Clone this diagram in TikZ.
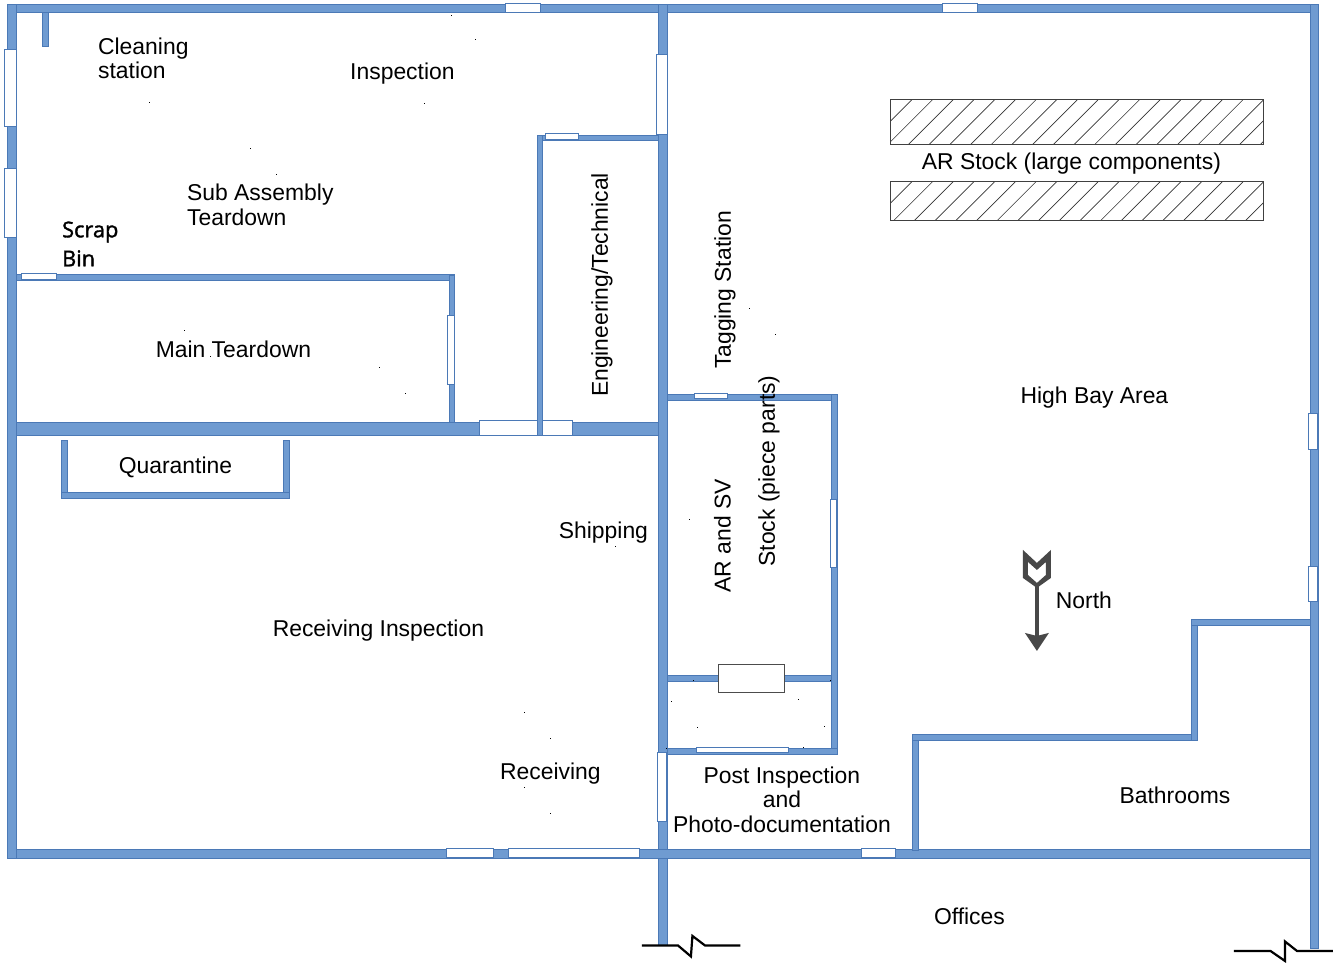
\documentclass[tikz,border=0pt]{standalone}
\usepackage{fontspec}
\setmainfont{Liberation Sans}
\newfontfamily\scrapfont{Open Sans}[FakeBold=1.5]
\definecolor{wallfill}{HTML}{6F9BD1}
\definecolor{wallline}{HTML}{4B79B6}
\definecolor{arrowgray}{HTML}{484848}
\tikzset{
  wallst/.style={fill=wallfill,draw=wallline,line width=0.7pt},
  winst/.style={fill=white,draw=wallline,line width=0.9pt},
  breakst/.style={draw=black,line width=2.2pt,miter limit=10},
  hatchbox/.style={draw=black!75,line width=0.9pt},
  lbl/.style={inner sep=0pt,font=\fontsize{22.9}{24.5}\selectfont},
  speck/.style={fill=black,inner sep=0pt,minimum size=1pt,shape=rectangle},
}
\newcommand\wall[4]{\path[wallst] (#1,#2) rectangle (#3,#4);}
\newcommand\win[4]{\path[winst] (#1,#2) rectangle (#3,#4);}
\begin{document}
\begin{tikzpicture}[x=1pt,y=-1pt]
\useasboundingbox (0.08,0.08) rectangle (1333.08,963.08);
% outer walls
\wall{7}{4}{1318}{12}
\wall{7}{4}{16}{858}
\wall{1310}{4}{1318}{948}
\wall{658}{4}{667}{945}
\wall{16}{849}{1310}{858}
\wall{42}{12}{48}{46}
% interior
\wall{16}{274}{454}{280}
\wall{449}{275}{454}{424}
\wall{16}{422}{658}{435}
\wall{537}{135}{658}{140}
\wall{61}{440}{67}{498}
\wall{283}{440}{289}{498}
\wall{61}{492}{289}{498}
\wall{667}{394}{837}{400}
\wall{831}{394}{837}{754}
\wall{667}{675}{831}{681}
\wall{667}{748}{837}{754}
\wall{912}{734}{918}{850}
\wall{912}{734}{1197}{740}
\wall{1191}{619}{1197}{740}
\wall{1191}{619}{1310}{625}
% windows
\win{506}{4}{541}{13}
\win{943}{4}{978}{13}
\win{5}{50}{17}{127}
\win{5}{169}{17}{238}
\win{657}{55}{668}{135}
\win{658}{753}{667}{822}
\win{1309}{414}{1318}{450}
\win{1309}{567}{1318}{602}
\win{447}{849}{494}{858}
\win{509}{849}{640}{858}
\win{862}{849}{896}{858}
\win{22}{274}{57}{280}
\win{448}{316}{455}{385}
\win{480}{421}{573}{436}
\win{546}{134}{579}{140}
\win{695}{394}{728}{399}
\win{831}{500}{837}{568}
\win{697}{748}{789}{753}
\wall{537}{135}{542}{435}
\path[fill=white,draw=black!70,line width=1pt] (719,665) rectangle (785,693);
% hatch boxes
\begin{scope}
\clip (891,100) rectangle (1264,145);
\foreach \i in {0,...,21}{\draw[black!80,line width=0.7pt] (866.7+\i*20.7,145) -- ++(45,-45);}
\end{scope}
\path[hatchbox] (891,100) rectangle (1264,145);
\begin{scope}
\clip (891,182) rectangle (1264,221);
\foreach \i in {0,...,21}{\draw[black!80,line width=0.7pt] (872.7+\i*20.7,221) -- ++(39,-39);}
\end{scope}
\path[hatchbox] (891,182) rectangle (1264,221);
% break lines
\path[breakst] (642,945.5) -- (678,945.5) -- (691,956.5) -- (692.5,936) -- (705,945.5) -- (740.5,945.5);
\path[breakst] (1234,951) -- (1270.5,951) -- (1285,961) -- (1285,941.5) -- (1297,951) -- (1333,951);
% north arrow
\path[fill=arrowgray,even odd rule] (1023,550) -- (1037,563) -- (1051,550) -- (1051,578) -- (1037,588) -- (1023,578) -- cycle
  (1028,562) -- (1037,570) -- (1046,562) -- (1046,575) -- (1037,583) -- (1028,575) -- cycle;
\path[fill=arrowgray] (1034.7,586) rectangle (1039.3,636);
\path[fill=arrowgray] (1025,633) -- (1037,636) -- (1049,633) -- (1037,651) -- cycle;
% specks
\foreach \x/\y [count=\n] in {150/103,251/149,277/175,452/16,476/40,425/104,185/331,211/357,380/368,406/394,690/520,616/547,750/309,776/335,525/713,551/739,525/788,551/814,694/681,672/702,698/728,799/700,825/727,831/681,667/749,804/748}
  \node[speck] (s\n) at (\x,\y) {};
% labels
\node[lbl,anchor=west,align=left] (cleaning) at (98,58.5) {Cleaning\\station};
\node[lbl] (inspection) at (402.5,74) {Inspection};
\node[lbl,anchor=west,align=left] (subassy) at (187,205) {Sub Assembly\\Teardown};
\node[inner sep=0pt,anchor=west,align=left,font=\scrapfont\fontsize{21.8}{29}\selectfont] (scrap) at (62,244) {Scrap\\Bin};
\node[lbl] (main) at (233.5,349.5) {Main Teardown};
\node[lbl] (quarantine) at (175.5,467.5) {Quarantine};
\node[lbl] (shipping) at (603.5,533) {Shipping};
\node[lbl] (recinsp) at (378.5,631) {Receiving Inspection};
\node[lbl] (receiving) at (550.5,774) {Receiving};
\node[lbl,rotate=90] (eng) at (602,285) {Engineering/Technical};
\node[lbl,rotate=90] (tag) at (725,290) {Tagging Station};
\node[lbl,rotate=90] (arsv) at (722.5,536) {AR and SV};
\node[lbl,rotate=90] (stock) at (769,471) {Stock (piece parts)};
\node[lbl] (arstock) at (1071.5,164) {AR Stock (large components)};
\node[lbl] (highbay) at (1094.5,398) {High Bay Area};
\node[lbl] (north) at (1084,600.5) {North};
\node[lbl,align=center] (post) at (782,799.5) {Post Inspection\\and\\Photo-documentation};
\node[lbl] (bath) at (1175,795.5) {Bathrooms};
\node[lbl] (offices) at (969.5,916.5) {Offices};
\end{tikzpicture}
\end{document}
